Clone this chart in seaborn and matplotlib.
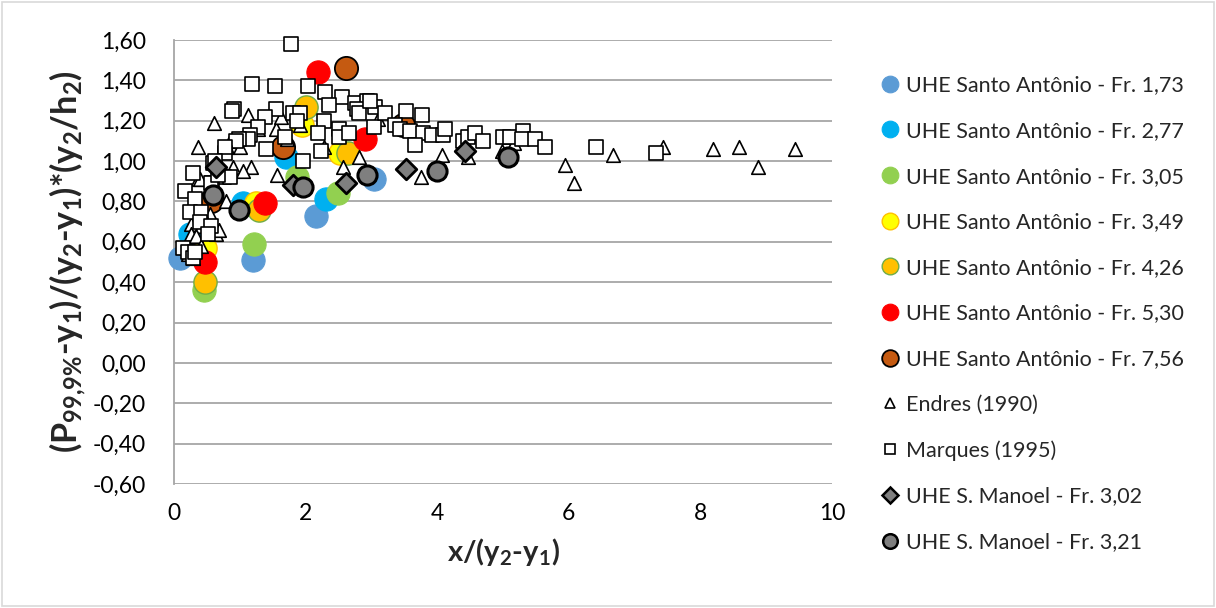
import matplotlib
matplotlib.use("Agg")
import matplotlib.pyplot as plt
import seaborn as sns
import pandas as pd
from matplotlib.lines import Line2D
from matplotlib.patches import Rectangle
from matplotlib.ticker import FuncFormatter, MultipleLocator

# --- data ---
sa173_x = [0.09, 1.20, 2.16, 3.04]
sa173_y = [0.52, 0.51, 0.73, 0.91]

sa277_x = [0.24, 1.05, 1.70, 2.31]
sa277_y = [0.64, 0.79, 1.02, 0.81]

sa305_x = [0.46, 1.22, 1.87, 2.49]
sa305_y = [0.36, 0.59, 0.92, 0.84]

sa349_x = [0.47, 1.25, 1.95, 2.52]
sa349_y = [0.57, 0.79, 1.18, 1.04]

sa426_x = [0.47, 1.29, 2.00, 2.64]
sa426_y = [0.40, 0.76, 1.27, 1.04]

sa530_x = [0.47, 1.38, 2.19, 2.90]
sa530_y = [0.50, 0.79, 1.44, 1.11]

sa756_x = [0.56, 1.66, 2.61, 3.48]
sa756_y = [0.80, 1.07, 1.46, 1.18]

endres_x = [0.61, 1.12, 0.36, 0.85, 1.00, 1.28, 1.55, 1.63, 1.91, 1.71, 2.28, 2.57,
            2.81, 1.56, 1.17, 0.90, 0.37, 0.80, 3.10, 0.26, 0.41, 0.56, 0.64, 0.26,
            0.33, 0.41, 0.21, 0.29, 0.55, 1.05, 0.40, 0.79, 0.47, 4.07, 3.75, 4.47,
            4.98, 5.17, 5.94, 6.08, 6.67, 7.43, 8.19, 8.59, 8.88, 9.44, 0.68]
endres_y = [1.19, 1.23, 1.07, 1.10, 1.07, 1.16, 1.16, 1.22, 1.18, 1.11, 1.07, 0.97,
            1.02, 0.93, 0.97, 0.97, 0.91, 1.07, 1.21, 0.69, 0.68, 0.68, 0.64, 0.64,
            0.63, 0.58, 0.54, 0.52, 0.74, 0.95, 0.91, 0.80, 0.71, 1.03, 0.92, 1.02,
            1.05, 1.09, 0.98, 0.89, 1.03, 1.07, 1.06, 1.07, 0.97, 1.06, 0.66]

marques_x = [1.78, 1.18, 1.53, 2.04, 2.29, 2.55, 2.75, 2.93, 3.05, 2.36, 2.78, 2.81,
             0.91, 0.88, 1.55, 1.38, 1.81, 1.91, 1.87, 2.28, 1.28, 1.15, 1.12, 0.99,
             0.94, 1.69, 2.19, 2.51, 2.51, 2.66, 3.04, 0.78, 0.78, 1.40, 2.23, 1.96,
             0.59, 0.29, 0.76, 0.85, 0.58, 0.17, 0.62, 0.56, 0.67, 0.32, 0.24, 0.41,
             0.40, 0.56, 0.52, 0.14, 0.21, 0.29, 0.32, 2.98, 3.20, 3.53, 3.77, 3.36,
             3.43, 3.59, 3.78, 3.92, 4.09, 4.12, 3.66, 4.39, 4.47, 4.57, 4.70, 5.00,
             5.10, 5.30, 5.29, 5.49, 5.64, 6.41, 7.33]
marques_y = [1.58, 1.38, 1.37, 1.37, 1.34, 1.32, 1.29, 1.30, 1.27, 1.28, 1.26, 1.24,
             1.26, 1.25, 1.26, 1.22, 1.24, 1.24, 1.20, 1.20, 1.17, 1.13, 1.11, 1.11,
             1.10, 1.12, 1.14, 1.16, 1.12, 1.14, 1.17, 1.04, 1.07, 1.06, 1.05, 1.00,
             0.99, 0.94, 0.92, 0.92, 0.89, 0.85, 1.00, 0.89, 0.93, 0.81, 0.75, 0.75,
             0.70, 0.68, 0.64, 0.57, 0.55, 0.52, 0.55, 1.30, 1.24, 1.25, 1.23, 1.18,
             1.16, 1.15, 1.14, 1.13, 1.13, 1.16, 1.08, 1.10, 1.12, 1.14, 1.10, 1.12,
             1.12, 1.15, 1.11, 1.11, 1.07, 1.07, 1.04]

sm302_x = [0.64, 1.81, 2.61, 3.53, 4.42]
sm302_y = [0.97, 0.88, 0.89, 0.96, 1.05]

sm321_x = [0.59, 0.99, 1.96, 2.93, 4.00, 5.08]
sm321_y = [0.83, 0.76, 0.87, 0.93, 0.95, 1.02]

# (label, x, y, marker, face, edge, linewidth, size, legend size)
series = [
    ("UHE Santo Antônio - Fr. 1,73", sa173_x, sa173_y, "o", "#5B9BD5", "#5B9BD5", 0.8, 280, 12),
    ("UHE Santo Antônio - Fr. 2,77", sa277_x, sa277_y, "o", "#00B0F0", "#00B0F0", 0.8, 280, 12),
    ("UHE Santo Antônio - Fr. 3,05", sa305_x, sa305_y, "o", "#92D050", "#92D050", 0.8, 280, 12),
    ("UHE Santo Antônio - Fr. 3,49", sa349_x, sa349_y, "o", "#FFFF00", "#FFC000", 1.0, 280, 12),
    ("UHE Santo Antônio - Fr. 4,26", sa426_x, sa426_y, "o", "#FFC000", "#70AD47", 1.0, 280, 12),
    ("UHE Santo Antônio - Fr. 5,30", sa530_x, sa530_y, "o", "#FF0000", "#FF0000", 0.8, 280, 12),
    ("UHE Santo Antônio - Fr. 7,56", sa756_x, sa756_y, "o", "#C55A11", "#000000", 1.3, 280, 12),
    ("Endres (1990)", endres_x, endres_y, "^", "white", "#000000", 1.2, 95, 7),
    ("Marques (1995)", marques_x, marques_y, "s", "white", "#000000", 1.2, 95, 7),
    ("UHE S. Manoel - Fr. 3,02", sm302_x, sm302_y, "D", "#7F7F7F", "#000000", 2.0, 110, 8.5),
    ("UHE S. Manoel - Fr. 3,21", sm321_x, sm321_y, "o", "#7F7F7F", "#000000", 2.2, 190, 10.5),
]

sns.set_style("white")
plt.rcParams["font.family"] = ["Lato", "DejaVu Sans"]
plt.rcParams["mathtext.fontset"] = "custom"
plt.rcParams["mathtext.rm"] = "Lato:bold"
plt.rcParams["mathtext.bf"] = "Lato:bold"
plt.rcParams["mathtext.it"] = "Lato:bold"
plt.rcParams["mathtext.default"] = "bf"

fig = plt.figure(figsize=(12.16, 6.08), dpi=100)
ax = fig.add_axes([0.1431, 0.2039, 0.5411, 0.7303])

for i, (lab, xs, ys, mk, fc, ec, lw, sz, _) in enumerate(series):
    df = pd.DataFrame({"x": xs, "y": ys})
    sns.scatterplot(data=df, x="x", y="y", ax=ax, marker=mk, color=fc,
                    edgecolor=ec, linewidth=lw, s=sz, zorder=3 + i, legend=False,
                    clip_on=False)

ax.set_xlim(0, 10)
ax.set_ylim(-0.6, 1.6)
ax.xaxis.set_major_locator(MultipleLocator(2))
ax.yaxis.set_major_locator(MultipleLocator(0.2))
ax.yaxis.set_major_formatter(FuncFormatter(lambda v, p: f"{v:.2f}".replace(".", ",")))
ax.grid(axis="y", color="#A6A6A6", linewidth=1.3)
ax.grid(axis="x", visible=False)
for side in ["top", "right", "bottom"]:
    ax.spines[side].set_visible(False)
ax.spines["left"].set_color("#A6A6A6")
ax.spines["left"].set_linewidth(1.3)
ax.tick_params(axis="both", length=0, labelsize=16.5, colors="#000000")
ax.tick_params(axis="y", pad=20)
ax.tick_params(axis="x", pad=14)

ax.set_xlabel(r"x/(y$_2$-y$_1$)", fontsize=21, fontweight="bold", labelpad=8)
ax.set_ylabel(r"(P$_{99{,}9\%}$-y$_1$)/(y$_2$-y$_1$)*(y$_2$/h$_2$)",
              fontsize=24.5, fontweight="bold", labelpad=3)

handles = [Line2D([], [], linestyle="none", marker=mk, markerfacecolor=fc,
                  markeredgecolor=ec, markeredgewidth=min(lw, 1.8), markersize=ls)
           for (lab, xs, ys, mk, fc, ec, lw, sz, ls) in series]
labels = [s[0] for s in series]
fig.legend(handles, labels, loc="upper left", bbox_to_anchor=(0.725, 0.876),
           frameon=False, fontsize=15.5, labelspacing=1.19, handlelength=0.8,
           handletextpad=0.35, borderaxespad=0, borderpad=0)

fig.patches.append(Rectangle((0.002, 0.003), 0.996, 0.994, transform=fig.transFigure,
                             fill=False, edgecolor="#D9D9D9", linewidth=1.2))

fig.savefig("out.png", dpi=100)
